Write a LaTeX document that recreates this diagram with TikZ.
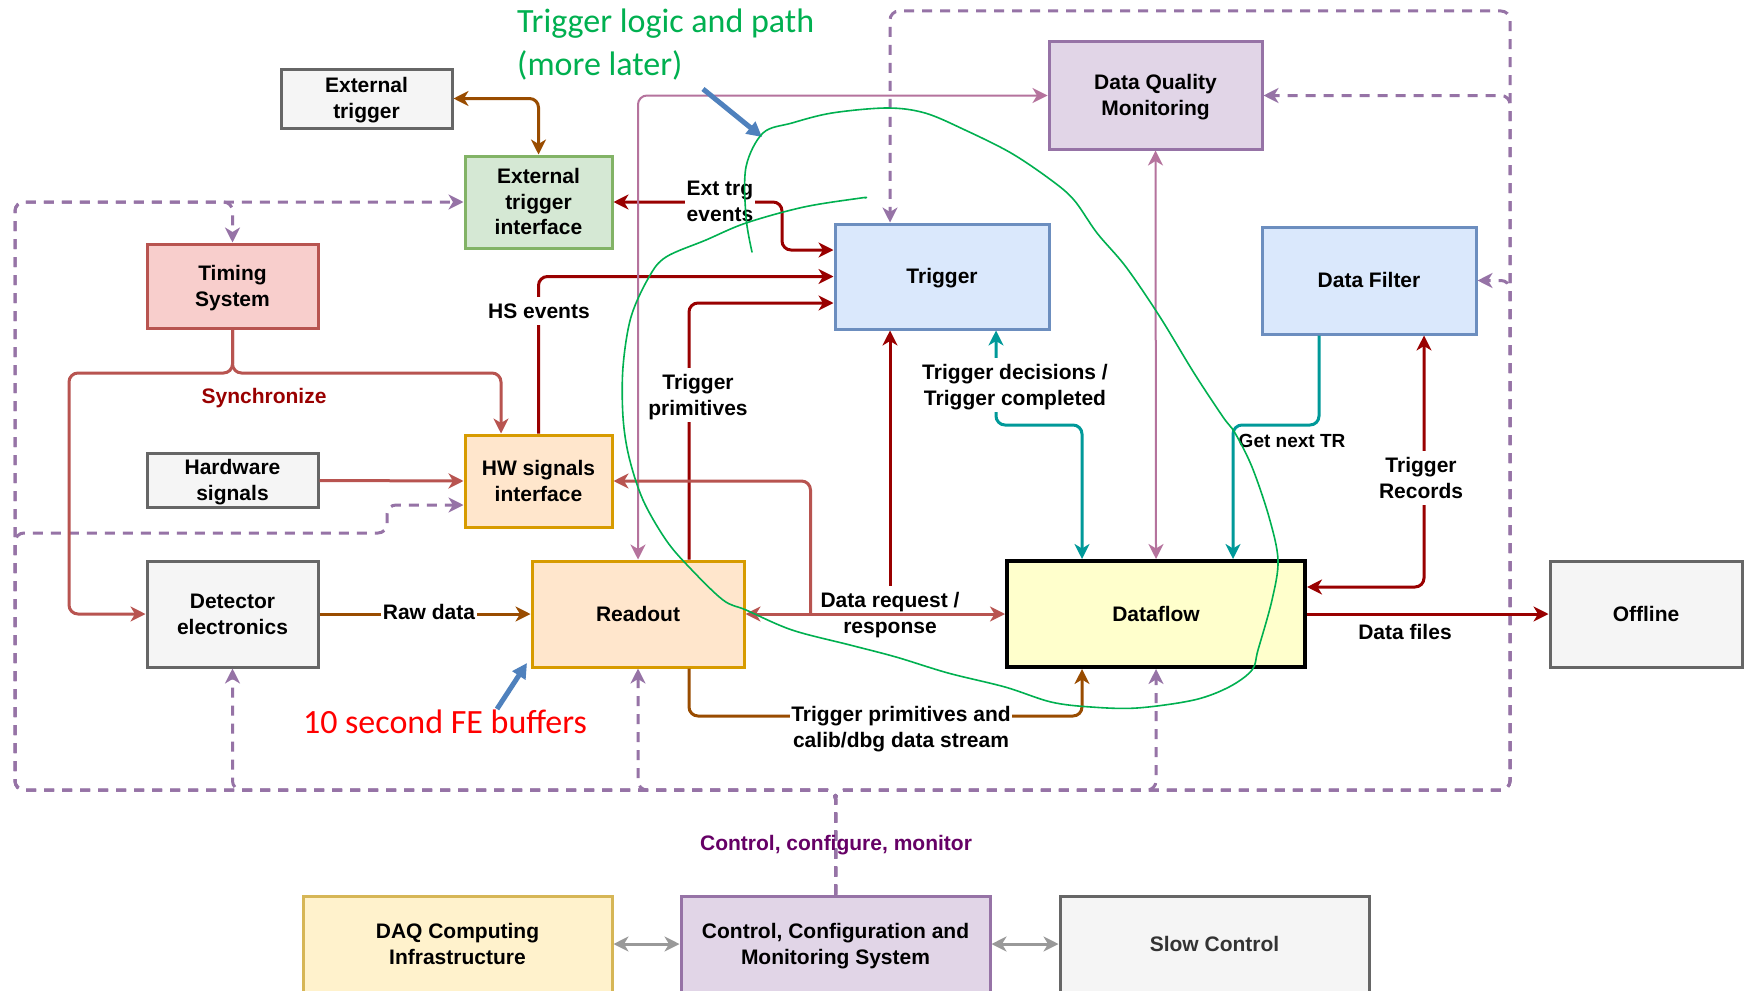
\documentclass[tikz,border=0pt]{standalone}
\usepackage{fontspec}
\setmainfont{Liberation Sans}
\newfontfamily\handfont{Carlito}
\usetikzlibrary{arrows.meta}

\definecolor{dred}{HTML}{990000}
\definecolor{lred}{HTML}{B85450}
\definecolor{brn}{HTML}{994C00}
\definecolor{tealc}{HTML}{009999}
\definecolor{pnk}{HTML}{B5739D}
\definecolor{purp}{HTML}{9673A6}
\definecolor{dpurp}{HTML}{660066}
\definecolor{gryline}{HTML}{999999}
\definecolor{inkgreen}{HTML}{00B050}
\definecolor{inkblue}{HTML}{4F81BD}
\definecolor{gfill}{HTML}{F5F5F5}
\definecolor{gdraw}{HTML}{666666}
\definecolor{grfill}{HTML}{D5E8D4}
\definecolor{grdraw}{HTML}{82B366}
\definecolor{rfill}{HTML}{F8CECC}
\definecolor{rdraw}{HTML}{B85450}
\definecolor{ofill}{HTML}{FFE6CC}
\definecolor{odraw}{HTML}{D79B00}
\definecolor{bfill}{HTML}{DAE8FC}
\definecolor{bdraw}{HTML}{6C8EBF}
\definecolor{pfill}{HTML}{E1D5E7}
\definecolor{pdraw}{HTML}{9673A6}
\definecolor{yfill}{HTML}{FFFFCC}
\definecolor{y2fill}{HTML}{FFF2CC}
\definecolor{y2draw}{HTML}{D6B656}

% text set in line boxes of 1.2em: invisible struts on the first and last line
\newcommand\topstrut{\rule{0pt}{0.947em}}
\newcommand\botstrut{\rule[-0.253em]{0pt}{0pt}}
\newcommand\tbox[1]{\topstrut#1\botstrut}

\tikzset{
  >={Stealth[length=15pt,width=15pt,inset=4.5pt]},
  blk/.style={draw, line width=3pt, align=center, inner sep=2pt,
    font=\bfseries\fontsize{21}{25.6}\selectfont},
  gbox/.style={blk, fill=gfill, draw=gdraw},
  grbox/.style={blk, fill=grfill, draw=grdraw},
  rbox/.style={blk, fill=rfill, draw=rdraw},
  obox/.style={blk, fill=ofill, draw=odraw},
  bbox/.style={blk, fill=bfill, draw=bdraw},
  pbox/.style={blk, fill=pfill, draw=pdraw},
  conn/.style={line width=3pt, rounded corners=9pt},
  lbl/.style={align=center, inner sep=1.5pt,
    font=\bfseries\fontsize{21}{25.6}\selectfont},
  wlbl/.style={lbl, fill=white},
  dsh/.style={draw=purp, line width=3pt, dash pattern=on 10pt off 8pt,
    rounded corners=9pt, ->},
  hand/.style={font=\handfont\fontsize{34}{42}\selectfont, inner sep=0pt},
}

\begin{document}
\begin{tikzpicture}[x=1pt, y=-1pt]
\useasboundingbox (0,0) rectangle (1744,990);
\fill[white] (0,0) rectangle (1744,990);
\clip (0,0) rectangle (1744,990);

% ---------- blocks ----------
\node[gbox, minimum width=171pt, minimum height=59pt] (ext) at (366.5,98.5) {\tbox{External\\trigger}};
\node[grbox, minimum width=147pt, minimum height=92pt] (eti) at (538.5,202) {\tbox{External\\trigger\\interface}};
\node[rbox, minimum width=171pt, minimum height=84pt] (tim) at (232.5,286) {\tbox{Timing\\System}};
\node[gbox, minimum width=171pt, minimum height=53pt] (hws) at (232.5,480.5) {\tbox{Hardware\\signals}};
\node[obox, minimum width=147pt, minimum height=92pt] (hwi) at (538.5,481) {\tbox{HW signals\\interface}};
\node[gbox, minimum width=171pt, minimum height=106pt] (det) at (232.5,614) {\tbox{Detector\\electronics}};
\node[obox, minimum width=212pt, minimum height=106pt] (rdo) at (638,614) {\tbox{Readout}};
\node[bbox, minimum width=214pt, minimum height=105pt] (trg) at (942,276.5) {\tbox{Trigger}};
\node[pbox, minimum width=213pt, minimum height=107pt] (dqm) at (1155.5,95.5) {\tbox{Data Quality\\Monitoring}};
\node[bbox, minimum width=214pt, minimum height=107pt] (dfl) at (1369,280.5) {\tbox{Data Filter}};
\node[blk, fill=yfill, draw=black, line width=4pt, minimum width=298pt, minimum height=106pt] (dfw) at (1156,614) {\tbox{Dataflow}};
\node[gbox, minimum width=192pt, minimum height=106pt] (off) at (1646,614) {\tbox{Offline}};
\node[blk, fill=y2fill, draw=y2draw, minimum width=309pt, minimum height=96pt] (dci) at (457.5,944) {\tbox{DAQ Computing\\Infrastructure}};
\node[pbox, minimum width=309pt, minimum height=96pt] (ccm) at (835.5,944) {\tbox{Control, Configuration and\\Monitoring System}};
\node[gbox, text={rgb,255:red,51;green,51;blue,51}, minimum width=309pt, minimum height=96pt] (sc) at (1214.5,944) {\tbox{Slow Control}};

% ---------- control / configure / monitor bus ----------
\coordinate (bus) at (835.5,790);
\draw[dsh] (ccm.north) -- (bus) -| (15,202) -- (eti.west);
\draw[dsh] (ccm.north) -- (bus) -| (15,202) -| (tim.north);
\draw[dsh] (ccm.north) -- (bus) -| (15,533) -| (387,505) -- ([yshift=-24pt]hwi.west);
\draw[dsh] (ccm.north) -- (bus) -| (det.south);
\draw[dsh] (ccm.north) -- (bus) -| (rdo.south);
\draw[dsh] (ccm.north) -- (bus) -| (dfw.south);
\draw[dsh] (ccm.north) -- (bus) -| (1510,11) -| ([xshift=-52pt]trg.north);
\draw[dsh] (ccm.north) -- (bus) -| (1510,95.5) -- (dqm.east);
\draw[dsh] (ccm.north) -- (bus) -| (1510,280.5) -- (dfl.east);
\node[lbl, text=dpurp] (lccm) at (836,843) {\tbox{Control, configure, monitor}};

% ---------- data and trigger paths ----------
\draw[conn, brn, <->] (ext.east) -| (eti.north);
\draw[conn, dred, <->] (eti.east) -- (782,202) |- ([yshift=26.5pt]trg.west);
\draw[conn, dred, ->] (hwi.north) |- (trg.west);
\draw[conn, dred, ->] ([xshift=51pt]rdo.north) |- ([yshift=-26.5pt]trg.west);
\draw[conn, pnk, line width=2pt, <->] (rdo.north) |- (dqm.west);
\draw[conn, pnk, line width=2pt, <->] (dqm.south) -- (dfw.north);

\draw[conn, lred, <->] (rdo.east) -- (dfw.west);
\draw[conn, lred, ->] ([xshift=65pt]rdo.east) |- (hwi.east);
\draw[conn, lred, ->] (hws.east) -- (hwi.west);
\draw[conn, lred, ->] (tim.south) |- (69,373) |- (det.west);
\draw[conn, lred, ->] (tim.south) |- (501,373) -- ([xshift=-37.5pt]hwi.north);

\draw[conn, brn, ->] (det.east) -- (rdo.west);
\draw[conn, brn, ->] ([xshift=51pt]rdo.south) |- ([xshift=-74pt, yshift=-47pt]dfw.south) -- ([xshift=-74pt]dfw.south);

\draw[conn, tealc, <->] ([xshift=54pt]trg.south) |- ([xshift=-74pt, yshift=134pt]dfw.north) -- ([xshift=-74pt]dfw.north);
\draw[conn, tealc, ->] ([xshift=-50pt]dfl.south) |- ([xshift=77pt, yshift=134pt]dfw.north) -- ([xshift=77pt]dfw.north);

\draw[conn, dred, <->] ([yshift=27pt]dfw.east) -| ([xshift=55pt]dfl.south);
\draw[conn, dred, ->] (dfw.east) -- (off.west);

\draw[conn, gryline, <->] (dci.east) -- (ccm.west);
\draw[conn, gryline, <->] (ccm.east) -- (sc.west);

% ---------- edge labels ----------
\node[wlbl, align=left] (lext) at (720,201) {\tbox{Ext trg\\events}};
\node[wlbl] (lhs) at (539,311) {\tbox{HS events}};
\node[wlbl] (ltp) at (698,395) {\tbox{Trigger\\primitives}};
\node[lbl] (lreq) at (890,613) {\tbox{Data request /\\response}};
\draw[conn, dred, ->] (lreq.north) -- (lreq.north |- trg.south);
\node[wlbl] (ltd) at (1015,385) {\tbox{Trigger decisions /\\Trigger completed}};
\node[lbl, anchor=west, font=\bfseries\fontsize{19}{23}\selectfont] (lgn) at (1237,441) {\tbox{Get next TR}};
\node[wlbl] (ltr) at (1421,478) {\tbox{Trigger\\Records}};
\node[lbl] (ldf) at (1405,632) {\tbox{Data files}};
\node[wlbl] (lraw) at (429,612) {\tbox{Raw data}};
\node[wlbl] (ltpc) at (901,727) {\tbox{Trigger primitives and\\calib/dbg data stream}};
\node[lbl, text=dred] (lsync) at (264,396) {\tbox{Synchronize}};

% ---------- hand-drawn notes ----------
\node[hand, text=inkgreen, anchor=base west] (g1) at (517,33) {Trigger logic and path};
\node[hand, text=inkgreen, anchor=base west] (g2) at (517,75) {(more later)};
\node[hand, text=red, anchor=base] (rnote) at (445,733) {10 second FE buffers};

\coordinate (b1s) at (703,89);
\coordinate (b1e) at (762,137);
\coordinate (b2s) at (497,709);
\coordinate (b2e) at (527,663);
\draw[inkblue, line width=5pt, -{Triangle[length=15pt,width=15pt]}] (b1s) -- (b1e);
\draw[inkblue, line width=5pt, -{Triangle[length=15pt,width=15pt]}] (b2s) -- (b2e);

\draw[inkgreen, line width=1.6pt, line join=round, line cap=round]
  plot[smooth, tension=0.55] coordinates {
    (752,252) (746,217) (746,167) (763,133) (792,123) (832,113) (887,108)
    (925,113) (965,130) (1011,153) (1051,180) (1074,200) (1097,233)
    (1126,267) (1160,317) (1194,373) (1223,417) (1235,433) (1252,467)
    (1269,517) (1278,560) (1272,600) (1258,650) (1252,670) (1229,687)
    (1194,700) (1137,708) (1091,707) (1051,702) (1005,687) (948,673)
    (896,657) (850,645) (792,630) (746,610) (723,600) (689,567) (666,540)
    (643,500) (629,457) (623,417) (623,367) (631,317) (649,277) (666,257)
    (706,240) (746,223) (804,207) (861,198) (865,198)};
\end{tikzpicture}
\end{document}
